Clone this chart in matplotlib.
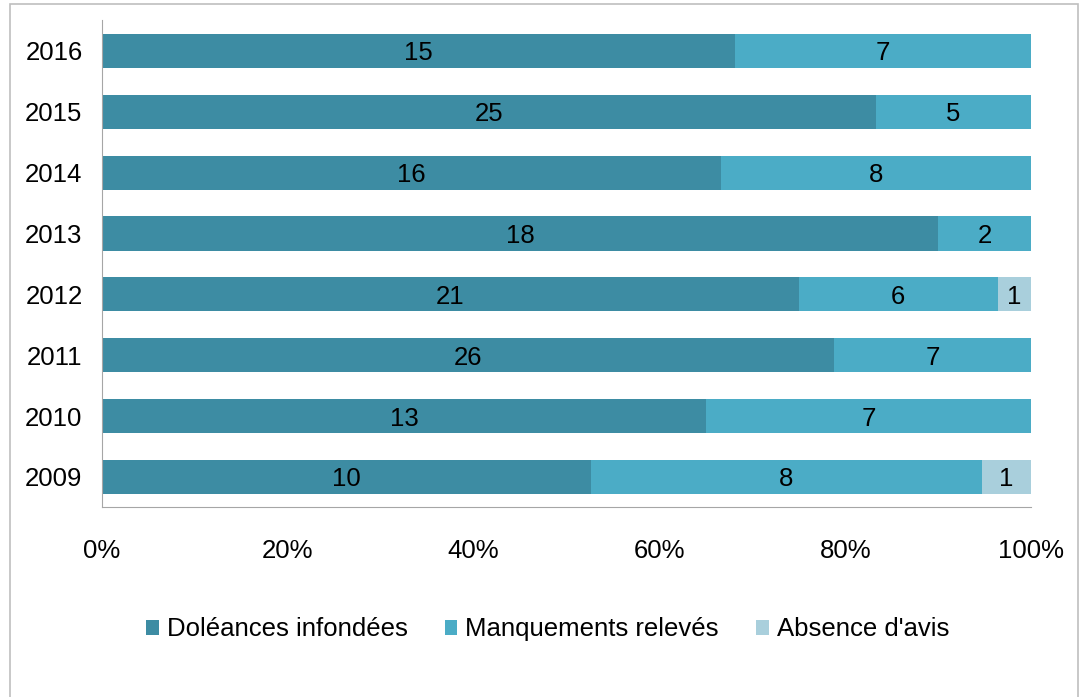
import numpy as np
import matplotlib
matplotlib.use("Agg")
import matplotlib.pyplot as plt
from matplotlib.patches import Rectangle

plt.rcParams['font.family'] = ['Liberation Sans', 'DejaVu Sans']

# data
years = ['2009', '2010', '2011', '2012', '2013', '2014', '2015', '2016']
infondees = [10, 13, 26, 21, 18, 16, 25, 15]
manquements = [8, 7, 7, 6, 2, 8, 5, 7]
absence = [1, 0, 0, 1, 0, 0, 0, 0]
series_names = ['Doléances infondées', 'Manquements relevés', "Absence d'avis"]
colors = ['#3D8CA3', '#4BACC6', '#A9CFDC']

counts = np.array([infondees, manquements, absence], dtype=float)
totals = counts.sum(axis=0)
shares = counts / totals * 100

fs = 18.5
fig = plt.figure(figsize=(10.84, 6.97), dpi=100)
ax = fig.add_axes([0.0941, 0.272, 0.857, 0.6986])

y = np.arange(len(years))
left = np.zeros(len(years))
for i in range(3):
    ax.barh(y, shares[i], left=left, height=0.56, color=colors[i],
            label=series_names[i])
    for j in range(len(years)):
        if counts[i][j] > 0:
            ax.text(left[j] + shares[i][j] / 2, y[j], str(int(counts[i][j])),
                    ha='center', va='center_baseline', fontsize=fs, color='black')
    left += shares[i]

ax.set_xlim(0, 100)
ax.set_ylim(-0.5, len(years) - 0.5)
ax.set_yticks(y)
ax.set_yticklabels(years, fontsize=fs)
ax.set_xticks(np.arange(0, 101, 20))
ax.set_xticklabels([f'{v}%' for v in range(0, 101, 20)], fontsize=fs)
ax.tick_params(axis='both', length=0)
ax.tick_params(axis='x', pad=23)
ax.tick_params(axis='y', pad=14)
for s in ['top', 'right']:
    ax.spines[s].set_visible(False)
ax.spines['left'].set_color('#A6A6A6')
ax.spines['bottom'].set_color('#A6A6A6')

fig.legend(loc='center', bbox_to_anchor=(0.505, 0.097), ncol=3, frameon=False,
           fontsize=fs, handlelength=0.5, handleheight=0.5, handletextpad=0.3,
           columnspacing=1.45)

# outer frame
fig.patches.append(Rectangle((10 / 1084, -0.01), 1068 / 1084, 1 - 4 / 697 + 0.01,
                             transform=fig.transFigure, fill=False,
                             edgecolor='#BFBFBF', linewidth=1.2))

fig.savefig('out.png', dpi=100)
